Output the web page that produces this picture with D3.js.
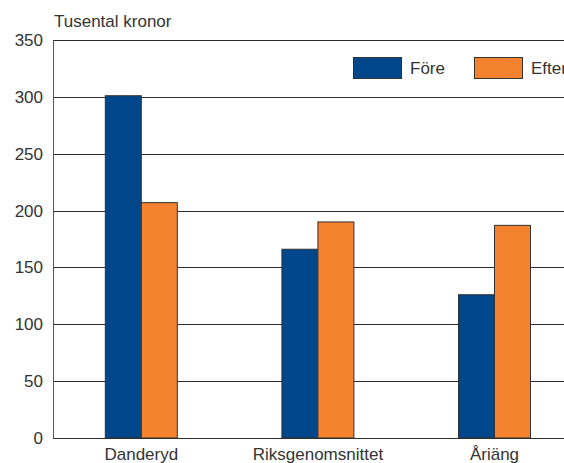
<!DOCTYPE html>
<html>
<head>
<meta charset="utf-8">
<script src="https://cdn.jsdelivr.net/npm/d3@7"></script>
<style>
  html, body { margin: 0; padding: 0; background: #fff; }
  svg { display: block; }
  text { font-family: "Liberation Sans", Arial, sans-serif; fill: #333; }
</style>
</head>
<body>
<svg id="chart" width="564" height="463"></svg>
<script>
// Average income before and after, thousands of SEK
const categories = ["Danderyd", "Riksgenomsnittet", "Åriäng"];
const seriesNames = ["Före", "Efter"];
const fore = [301, 166, 126];
const efter = [207, 190, 187];
const yTicks = [0, 50, 100, 150, 200, 250, 300, 350];
const unitLabel = "Tusental kronor";
const colors = ["#00468b", "#f5822f"];

const svg = d3.select("#chart");
const margin = { left: 53, top: 40 };
const plotBottom = 438;
const step = 176.6;
const plotRight = margin.left + step * categories.length;

const x = d3.scaleBand()
  .domain(categories)
  .range([margin.left, plotRight])
  .paddingInner(0).paddingOuter(0);

const xSub = d3.scaleBand()
  .domain(seriesNames)
  .range([0, 72])
  .padding(0);

const y = d3.scaleLinear()
  .domain([0, 350])
  .range([plotBottom, margin.top]);

// Horizontal grid lines
svg.append("g")
  .selectAll("line")
  .data(yTicks)
  .join("line")
  .attr("x1", margin.left)
  .attr("x2", plotRight)
  .attr("y1", d => Math.round(y(d)) + 0.5)
  .attr("y2", d => Math.round(y(d)) + 0.5)
  .attr("stroke", "#2b2b2b")
  .attr("stroke-width", 1.2);

// Left axis line
svg.append("line")
  .attr("x1", margin.left + 0.5).attr("x2", margin.left + 0.5)
  .attr("y1", Math.round(y(350)) + 0.5).attr("y2", Math.round(y(0)) + 0.5)
  .attr("stroke", "#555").attr("stroke-width", 1);

// Y tick labels
const yAxis = d3.axisLeft(y).tickValues(yTicks).tickSize(0).tickPadding(10);
const gy = svg.append("g")
  .attr("transform", `translate(${margin.left},0)`)
  .call(yAxis);
gy.select(".domain").remove();
gy.selectAll("text")
  .attr("font-size", 17)
  .attr("font-family", "Liberation Sans, Arial, sans-serif")
  .attr("fill", "#333");

// Unit label
svg.append("text")
  .attr("x", 54)
  .attr("y", 27)
  .attr("font-size", 17)
  .text(unitLabel);

// Bars
const rows = categories.map((c, i) => ({ cat: c, values: [fore[i], efter[i]] }));
const groups = svg.append("g")
  .selectAll("g")
  .data(rows)
  .join("g")
  .attr("transform", d => `translate(${x(d.cat) + x.bandwidth() / 2 - 36},0)`);

groups.selectAll("rect")
  .data(d => d.values.map((v, j) => ({ name: seriesNames[j], value: v, j })))
  .join("rect")
  .attr("x", d => xSub(d.name))
  .attr("y", d => y(d.value))
  .attr("width", xSub.bandwidth())
  .attr("height", d => y(0) - y(d.value))
  .attr("fill", d => colors[d.j])
  .attr("stroke", "#333")
  .attr("stroke-width", 1);

// X axis labels
const xAxis = d3.axisBottom(x).tickSize(0).tickPadding(10);
const gx = svg.append("g")
  .attr("transform", `translate(0,${plotBottom})`)
  .call(xAxis);
gx.select(".domain").remove();
gx.selectAll("text")
  .attr("font-size", 17)
  .attr("font-family", "Liberation Sans, Arial, sans-serif")
  .attr("fill", "#333");

// Legend
const legend = svg.append("g");
const legendX = [353, 474];
seriesNames.forEach((name, j) => {
  legend.append("rect")
    .attr("x", legendX[j] + 0.5)
    .attr("y", 57.5)
    .attr("width", 48)
    .attr("height", 21)
    .attr("fill", colors[j])
    .attr("stroke", "#333")
    .attr("stroke-width", 1);
  legend.append("text")
    .attr("x", legendX[j] + 57)
    .attr("y", 73.5)
    .attr("font-size", 17)
    .text(name);
});
</script>
</body>
</html>
